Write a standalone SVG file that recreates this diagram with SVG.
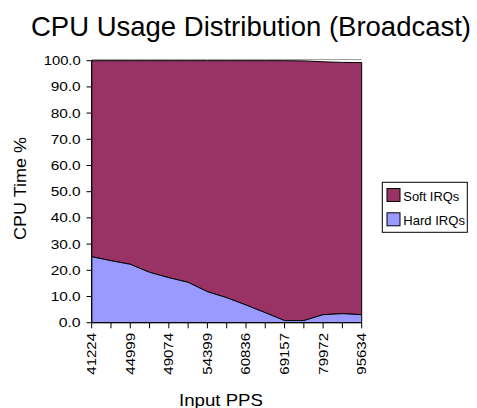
<svg xmlns="http://www.w3.org/2000/svg" width="477" height="408" viewBox="0 0 477 408">
<style>
text{font-family:"Liberation Sans",Arial,sans-serif;fill:#000}
.yl{font-size:12.5px;text-anchor:end}
.xl{font-size:12.5px;text-anchor:end}
.ax{stroke:#000;stroke-width:1;fill:none}
.area{stroke:#000;stroke-width:1;stroke-linejoin:round}
</style>
<rect width="477" height="408" fill="#fff"/>
<text id="title" x="31" y="36" font-size="27.5" textLength="440" lengthAdjust="spacingAndGlyphs">CPU Usage Distribution (Broadcast)</text>
<g id="plot">
<line x1="91.7" y1="59.6" x2="361.7" y2="59.6" stroke="#999" stroke-width="1"/>
<polygon id="soft" class="area" fill="#993366" points="91.7,60.7 110.99,60.7 130.27,60.7 149.56,60.7 168.84,60.7 188.13,60.7 207.42,60.7 226.7,60.7 245.99,60.7 265.27,60.7 284.56,60.7 303.85,60.9 323.13,61.8 342.42,62.4 361.7,62.6 361.7,314.7 342.42,313.7 323.13,314.7 303.85,320.6 284.56,320.6 265.27,312.7 245.99,305 226.7,297.7 207.42,291.7 188.13,282.3 168.84,277.7 149.56,272.3 130.27,264.3 110.99,260.7 91.7,256.7"/>
<polygon id="hard" class="area" fill="#9999ff" points="91.7,256.7 110.99,260.7 130.27,264.3 149.56,272.3 168.84,277.7 188.13,282.3 207.42,291.7 226.7,297.7 245.99,305 265.27,312.7 284.56,320.6 303.85,320.6 323.13,314.7 342.42,313.7 361.7,314.7 361.7,322.7 91.7,322.7"/>
</g>
<g id="axes">
<path class="ax" d="M91.7,60.7V322.7H361.7"/>
<path class="ax" d="M86.5,60.7H91.7M86.5,86.9H91.7M86.5,113.1H91.7M86.5,139.3H91.7M86.5,165.5H91.7M86.5,191.7H91.7M86.5,217.9H91.7M86.5,244.1H91.7M86.5,270.3H91.7M86.5,296.5H91.7M86.5,322.7H91.7"/>
<path class="ax" d="M91.7,322.7V328.3M110.99,322.7V328.3M130.27,322.7V328.3M149.56,322.7V328.3M168.84,322.7V328.3M188.13,322.7V328.3M207.42,322.7V328.3M226.7,322.7V328.3M245.99,322.7V328.3M265.27,322.7V328.3M284.56,322.7V328.3M303.85,322.7V328.3M323.13,322.7V328.3M342.42,322.7V328.3M361.7,322.7V328.3"/>
<text class="yl" x="80.7" y="65.2" textLength="37" lengthAdjust="spacingAndGlyphs">100.0</text>
<text class="yl" x="80.7" y="91.4" textLength="30" lengthAdjust="spacingAndGlyphs">90.0</text>
<text class="yl" x="80.7" y="117.6" textLength="30" lengthAdjust="spacingAndGlyphs">80.0</text>
<text class="yl" x="80.7" y="143.8" textLength="30" lengthAdjust="spacingAndGlyphs">70.0</text>
<text class="yl" x="80.7" y="170.0" textLength="30" lengthAdjust="spacingAndGlyphs">60.0</text>
<text class="yl" x="80.7" y="196.2" textLength="30" lengthAdjust="spacingAndGlyphs">50.0</text>
<text class="yl" x="80.7" y="222.4" textLength="30" lengthAdjust="spacingAndGlyphs">40.0</text>
<text class="yl" x="80.7" y="248.6" textLength="30" lengthAdjust="spacingAndGlyphs">30.0</text>
<text class="yl" x="80.7" y="274.8" textLength="30" lengthAdjust="spacingAndGlyphs">20.0</text>
<text class="yl" x="80.7" y="301.0" textLength="30" lengthAdjust="spacingAndGlyphs">10.0</text>
<text class="yl" x="80.7" y="327.2" textLength="22" lengthAdjust="spacingAndGlyphs">0.0</text>
<text class="xl" transform="translate(96.2,333) rotate(-90)" textLength="41.7" lengthAdjust="spacingAndGlyphs">41224</text>
<text class="xl" transform="translate(134.77,333) rotate(-90)" textLength="41.7" lengthAdjust="spacingAndGlyphs">44999</text>
<text class="xl" transform="translate(173.34,333) rotate(-90)" textLength="41.7" lengthAdjust="spacingAndGlyphs">49074</text>
<text class="xl" transform="translate(211.92,333) rotate(-90)" textLength="41.7" lengthAdjust="spacingAndGlyphs">54399</text>
<text class="xl" transform="translate(250.49,333) rotate(-90)" textLength="41.7" lengthAdjust="spacingAndGlyphs">60836</text>
<text class="xl" transform="translate(289.06,333) rotate(-90)" textLength="41.7" lengthAdjust="spacingAndGlyphs">69157</text>
<text class="xl" transform="translate(327.63,333) rotate(-90)" textLength="41.7" lengthAdjust="spacingAndGlyphs">79972</text>
<text class="xl" transform="translate(366.2,333) rotate(-90)" textLength="41.7" lengthAdjust="spacingAndGlyphs">95634</text>
<text id="ytitle" transform="translate(26,188.5) rotate(-90)" font-size="16.5" text-anchor="middle" textLength="103" lengthAdjust="spacingAndGlyphs">CPU Time %</text>
<text id="xtitle" x="221" y="406" font-size="16.5" text-anchor="middle" textLength="84" lengthAdjust="spacingAndGlyphs">Input PPS</text>
</g>
<g id="legend">
<rect x="382.3" y="182.3" width="85" height="50" fill="#fff" stroke="#000" stroke-width="1"/>
<rect x="387" y="188.5" width="13" height="13" fill="#993366" stroke="#000" stroke-width="1"/>
<rect x="387" y="212.8" width="13" height="13" fill="#9999ff" stroke="#000" stroke-width="1"/>
<text x="403.3" y="200.5" font-size="13" textLength="56" lengthAdjust="spacingAndGlyphs">Soft IRQs</text>
<text x="403.3" y="224.8" font-size="13" textLength="61.7" lengthAdjust="spacingAndGlyphs">Hard IRQs</text>
</g>
</svg>
